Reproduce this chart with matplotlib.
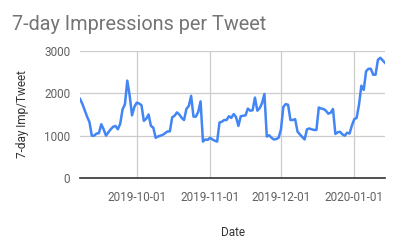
import matplotlib
matplotlib.use("Agg")
import matplotlib.pyplot as plt
import matplotlib.dates as mdates
import pandas as pd

start_date = "2019-09-07"
values = [
    1870, 1750, 1600, 1450, 1320, 1000, 1000, 1050, 1060, 1270, 1150, 1000, 1080,
    1150, 1210, 1230, 1150, 1280, 1620, 1740, 2300, 1950, 1480, 1680, 1780, 1760,
    1720, 1350, 1400, 1500, 1230, 1190, 950, 980, 1000, 1020, 1060, 1100, 1100,
    1435, 1470, 1550, 1500, 1420, 1370, 1630, 1700, 1940, 1450, 1450, 1560, 1810,
    860, 910, 900, 950, 910, 880, 860, 1310, 1330, 1370, 1370, 1460, 1420, 1510,
    1440, 1230, 1460, 1470, 1480, 1640, 1590, 1600, 1900, 1590, 1650, 1770, 1985,
    980, 1010, 950, 910, 920, 950,
    1150, 1680, 1745, 1730, 1370, 1370, 1390, 1095, 1030, 970, 910, 1150, 1170,
    1150, 1135, 1135, 1665, 1640, 1630, 1590, 1520, 1540, 1630, 1040, 1080, 1090,
    1030, 1000, 1070, 1050, 1240, 1390, 1420, 1730, 2180, 2080, 2520, 2580, 2580,
    2440, 2440, 2790, 2840, 2780, 2720,
]
dates = pd.date_range(start_date, periods=len(values), freq="D")
y_ticks = [0, 1000, 2000, 3000]
x_ticks = ["2019-10-01", "2019-11-01", "2019-12-01", "2020-01-01"]
title = "7-day Impressions per Tweet"
x_label = "Date"
y_label = "7-day Imp/Tweet"

plt.rcParams["font.family"] = ["Roboto", "DejaVu Sans"]

fig = plt.figure(figsize=(3.97, 2.45), dpi=100)
ax = fig.add_axes([80 / 397, 1 - 178 / 245, 305 / 397, 127 / 245])

ax.plot(dates, values, color="#4285F4", linewidth=1.8, solid_joinstyle="round")

ax.set_ylim(0, 3000)
ax.set_xlim(dates[0], dates[-1])
ax.set_yticks(y_ticks)
ax.set_yticklabels([str(v) for v in y_ticks])
ax.set_xticks(pd.to_datetime(x_ticks))
ax.set_xticklabels(x_ticks)

ax.grid(True, color="#cccccc", linewidth=0.9)
ax.set_axisbelow(True)
for s in ["top", "right", "left"]:
    ax.spines[s].set_visible(False)
ax.spines["bottom"].set_color("#333333")
ax.spines["bottom"].set_linewidth(1.2)
ax.spines["bottom"].set_zorder(3)

ax.tick_params(axis="both", length=0, labelsize=8.5, labelcolor="#616161")
ax.tick_params(axis="x", pad=9)
ax.tick_params(axis="y", pad=7)

ax.set_xlabel(x_label, fontsize=8.5, color="#333333", labelpad=16)
ax.set_ylabel(y_label, fontsize=8.5, color="#333333", labelpad=11)

fig.text(12 / 397, 1 - 30 / 245, title, fontsize=14.3, color="#757575", va="baseline", ha="left")

fig.savefig("out.png", dpi=100)
